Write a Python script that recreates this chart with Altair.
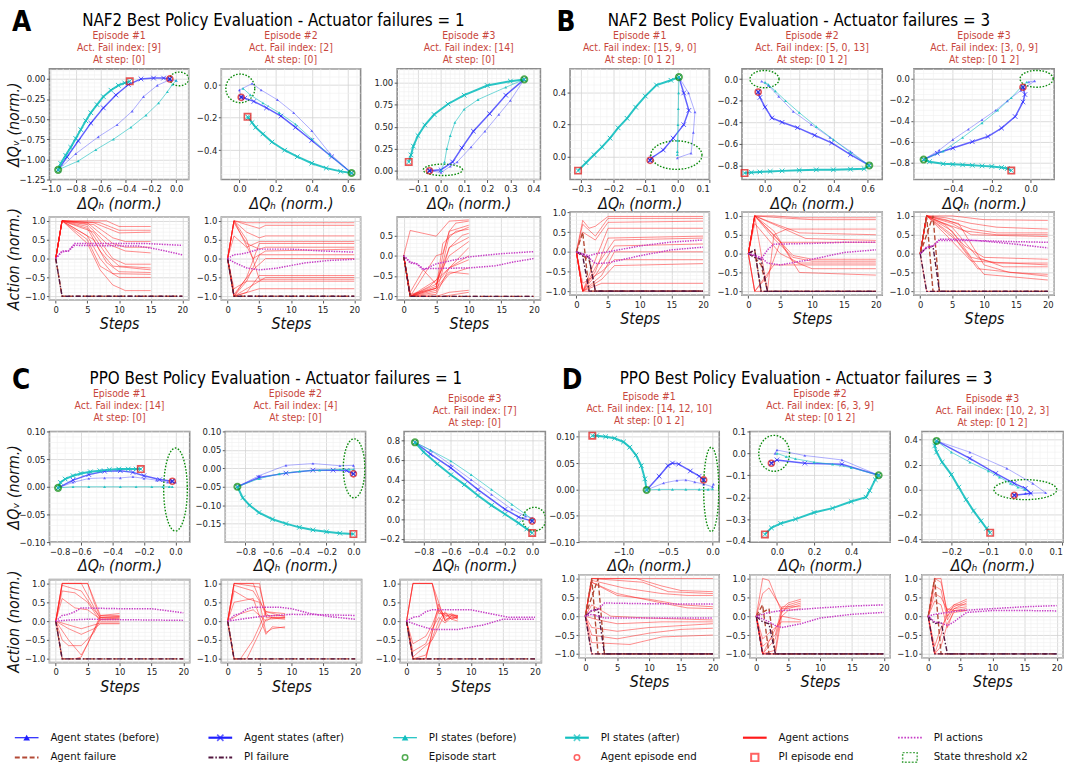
import math
import altair as alt
import pandas as pd

FONT = "Liberation Sans Narrow, DejaVu Sans Condensed, DejaVu Sans"
TITLE_RED = "#c8463c"
BLUE = "#1f1fff"
CYAN = "#12bfbf"
RED = "#ff1a1a"
MAG = "#c53ac5"
GREEN = "#0a8a0a"
AFAIL_C = "#b34a36"
PFAIL_C = "#52163f"
MINOR = "#efefef"
XPATH = "M-1,-1L1,1M-1,1L1,-1"

# ======================= DATA =======================
GROUP_TITLES = {
    "A": "NAF2 Best Policy Evaluation - Actuator failures = 1",
    "B": "NAF2 Best Policy Evaluation - Actuator failures = 3",
    "C": "PPO Best Policy Evaluation - Actuator failures = 1",
    "D": "PPO Best Policy Evaluation - Actuator failures = 3",
}

# ---------- A1 ----------
A1_TITLE = ["Episode #1", "Act. Fail index: [9]", "At step: [0]"]
A1_XDOM = [-1.01, 0.1]
A1_YDOM = [-1.25, 0.125]
A1_XAX = [-1.0, -0.8, -0.6, -0.4, -0.2, 0.0]
A1_YAX = [-1.25, -1.0, -0.75, -0.5, -0.25, 0.0]
A1_AG_BEFORE = [[-0.94, -1.13], [-0.8, -0.93], [-0.62, -0.72], [-0.47, -0.57], [-0.35, -0.4], [-0.26, -0.22], [-0.15, -0.08], [-0.05, -0.01], [0.0, -0.02]]
A1_AG_AFTER = [[-0.94, -1.13], [-0.87, -0.97], [-0.78, -0.77], [-0.68, -0.55], [-0.58, -0.36], [-0.48, -0.2], [-0.38, -0.07], [-0.28, 0.0], [-0.18, 0.01], [-0.1, 0.01], [-0.05, 0.0]]
A1_PI_BEFORE = [[-0.94, -1.13], [-0.78, -1.02], [-0.64, -0.88], [-0.5, -0.75], [-0.36, -0.6], [-0.24, -0.45], [-0.14, -0.3], [-0.07, -0.16], [-0.03, -0.07], [0.0, -0.02]]
A1_PI_AFTER = [[-0.94, -1.13], [-0.92, -1.05], [-0.88, -0.95], [-0.84, -0.85], [-0.8, -0.74], [-0.76, -0.63], [-0.72, -0.52], [-0.68, -0.42], [-0.63, -0.32], [-0.58, -0.22], [-0.52, -0.14], [-0.46, -0.08], [-0.41, -0.05], [-0.37, -0.03]]
A1_START = [-0.94, -1.13]
A1_AG_END = [-0.05, 0.0]
A1_PI_END = [-0.37, -0.03]
A1_THR = [0.025, 0.0, 0.075, 0.085]
A1_ACT = [
    [[0, 0], [1, 1], [8, 1], [10, 0.85], [15, 0.85]],
    [[0, 0], [1, 1], [7, 0.95], [10, 0.75], [15, 0.75]],
    [[0, 0], [1, 1], [6, 0.95], [10, 0.68], [15, 0.7]],
    [[0, 0], [1, 1], [6, 0.9], [9, 0.55], [11, 0.45], [15, 0.45]],
    [[0, 0], [1, 1], [5, 0.95], [9, 0.4], [11, 0.3], [15, 0.3]],
    [[0, 0], [1, 1], [5, 0.9], [8, 0.4], [11, 0.2], [15, 0.15]],
    [[0, 0], [1, 1], [6, 0.7], [9, 0.0], [11, -0.15], [15, -0.15]],
    [[0, 0], [1, 1], [5, 0.85], [8, 0.1], [10, -0.2], [15, -0.25]],
    [[0, 0], [1, 1], [5, 0.8], [7, 0.2], [9, -0.2], [15, -0.3]],
    [[0, 0], [1, 1], [6, 0.5], [8, -0.1], [10, -0.35], [15, -0.37]],
    [[0, 0], [1, 1], [5, 0.6], [7, 0.0], [9, -0.4], [15, -0.42]],
    [[0, 0], [1, 1], [5, 0.5], [7, -0.2], [10, -0.5], [15, -0.5]],
    [[0, 0], [1, 1], [5, 0.4], [7, -0.3], [9, -0.7], [11, -0.85], [15, -0.85]],
]
A1_AFAIL = [[[0, 0], [1, -1], [20, -1]]]
A1_PFAIL = [[[0, 0], [1, -1], [20, -1]]]
A1_PIACT = [
    [[0, 0], [1, 0.2], [2, 0.2], [3, 0.4], [14, 0.4], [20, 0.35]],
    [[0, 0], [1, 0.18], [2, 0.2], [3, 0.35], [13, 0.33], [16, 0.25], [20, 0.1]],
]

# ---------- A2 ----------
A2_TITLE = ["Episode #2", "Act. Fail index: [2]", "At step: [0]"]
A2_XDOM = [-0.1, 0.67]
A2_YDOM = [-0.58, 0.1]
A2_XAX = [0.0, 0.2, 0.4, 0.6]
A2_YAX = [-0.4, -0.2, 0.0]
A2_AG_BEFORE = [[0.62, -0.54], [0.5, -0.42], [0.4, -0.28], [0.3, -0.17], [0.21, -0.09], [0.12, -0.03], [0.07, 0.01], [0.0, -0.03], [0.01, -0.07]]
A2_AG_AFTER = [[0.62, -0.54], [0.51, -0.44], [0.4, -0.34], [0.31, -0.26], [0.23, -0.19], [0.15, -0.14], [0.08, -0.1], [0.03, -0.08], [0.01, -0.075]]
A2_PI_BEFORE = [[0.62, -0.54], [0.5, -0.43], [0.4, -0.33], [0.31, -0.24], [0.22, -0.17], [0.13, -0.11], [0.06, -0.06], [0.02, -0.02]]
A2_PI_AFTER = [[0.62, -0.54], [0.56, -0.53], [0.48, -0.51], [0.4, -0.48], [0.32, -0.44], [0.25, -0.4], [0.18, -0.35], [0.13, -0.3], [0.09, -0.26], [0.07, -0.23], [0.05, -0.2], [0.045, -0.195]]
A2_START = [0.62, -0.54]
A2_AG_END = [0.01, -0.075]
A2_PI_END = [0.045, -0.195]
A2_THR = [0.005, -0.02, 0.08, 0.088]
A2_ACT = [
    [[0, 0], [1, 1], [3, 0.95], [20, 0.95]],
    [[0, 0], [1, 1], [3, 0.9], [5, 0.8], [6, 0.88], [20, 0.88]],
    [[0, 0], [1, 1], [3, 0.7], [5, 0.55], [6, 0.6], [20, 0.6]],
    [[0, 0], [1, 0.95], [3, 0.4], [5, 0.25], [6, 0.3], [20, 0.3]],
    [[0, 0], [1, 0.6], [3, 0.3], [5, 0.45], [20, 0.45]],
    [[0, 0], [1, 1], [4, 0.0], [6, 0.2], [20, 0.25]],
    [[0, 0], [1, -1], [3, -0.5], [5, 0.4], [20, 0.4]],
    [[0, 0], [1, -1], [3, -0.6], [5, 0.1], [20, 0.1]],
    [[0, 0], [1, -0.95], [4, -0.3], [6, 0.0], [20, 0.0]],
    [[0, 0], [1, -1], [3, -0.9], [5, -0.45], [20, -0.45]],
    [[0, 0], [1, -1], [4, -0.7], [6, -0.5], [20, -0.5]],
    [[0, 0], [1, -0.8], [3, -0.6], [6, -0.6], [20, -0.6]],
    [[0, 0], [1, -1], [5, -0.8], [20, -0.8]],
    [[0, 0], [1, 1], [3, 0.5], [5, -0.55], [20, -0.55]],
]
A2_AFAIL = [[[0, 0], [1, -1], [20, -1]]]
A2_PFAIL = [[[0, 0], [1, -1], [20, -1]]]
A2_PIACT = [
    [[0, 0], [1, 0.1], [2, 0.12], [3, 0.15], [5, 0.25], [10, 0.25], [15, 0.2], [20, 0.17]],
    [[0, 0], [1, -0.1], [3, -0.25], [5, -0.3], [8, -0.25], [12, -0.12], [16, -0.05], [20, -0.02]],
]

# ---------- A3 ----------
A3_TITLE = ["Episode #3", "Act. Fail index: [14]", "At step: [0]"]
A3_XDOM = [-0.19, 0.43]
A3_YDOM = [-0.1, 1.16]
A3_XAX = [-0.1, 0.0, 0.1, 0.2, 0.3, 0.4]
A3_YAX = [0.0, 0.25, 0.5, 0.75, 1.0]
A3_AG_BEFORE = [[0.36, 1.04], [0.3, 0.8], [0.25, 0.64], [0.19, 0.45], [0.13, 0.27], [0.07, 0.1], [0.04, 0.05], [0.0, -0.02], [-0.05, 0.0]]
A3_AG_AFTER = [[0.36, 1.04], [0.28, 0.86], [0.21, 0.65], [0.14, 0.45], [0.09, 0.26], [0.05, 0.1], [0.0, 0.01], [-0.05, 0.0]]
A3_PI_BEFORE = [[0.36, 1.04], [0.28, 0.95], [0.16, 0.81], [0.1, 0.7], [0.06, 0.55], [0.04, 0.4], [0.025, 0.25], [0.015, 0.1], [0.0, 0.0]]
A3_PI_AFTER = [[0.36, 1.04], [0.3, 1.02], [0.2, 0.97], [0.1, 0.86], [0.03, 0.76], [-0.03, 0.64], [-0.07, 0.52], [-0.1, 0.4], [-0.12, 0.28], [-0.13, 0.18], [-0.14, 0.1]]
A3_START = [0.36, 1.04]
A3_AG_END = [-0.05, 0.0]
A3_PI_END = [-0.14, 0.1]
A3_THR = [0.008, 0.01, 0.085, 0.065]
A3_ACT = [
    [[0, 0], [1, 0.62], [5, 0.48], [7, 0.85], [10, 0.88]],
    [[0, 0], [1, -1], [5, 0.0], [6, 0.05], [7, 0.6], [8, 0.8], [10, 0.85]],
    [[0, 0], [1, -1], [5, -0.8], [6, 0.0], [7, 0.6], [10, 0.75]],
    [[0, 0], [1, -1], [5, -0.75], [6, -0.2], [7, 0.5], [10, 0.7]],
    [[0, 0], [1, -1], [5, -0.8], [6, 0.3], [8, 0.6], [10, 0.65]],
    [[0, 0], [1, -1], [5, -0.9], [7, 0.2], [9, 0.5], [10, 0.55]],
    [[0, 0], [1, -0.9], [3, -0.35], [5, -0.7], [7, 0.2], [10, 0.45]],
    [[0, 0], [1, -1], [5, -0.6], [7, 0.0], [10, 0.35]],
    [[0, 0], [1, -1], [5, -0.7], [7, -0.3], [10, 0.2]],
    [[0, 0], [1, -1], [4, -0.75], [7, -0.3], [10, 0.0]],
    [[0, 0], [1, -1], [5, -0.95], [7, -0.3], [10, -0.1]],
    [[0, 0], [1, -1], [5, -0.85], [7, -0.45], [10, -0.3]],
    [[0, 0], [1, -0.95], [5, -0.8], [7, -0.4], [10, -0.45]],
    [[0, 0], [1, -1], [5, -1], [7, -0.9], [10, -0.85]],
    [[0, 0], [1, -1], [6, -1], [8, -0.95], [10, -0.9]],
]
A3_AFAIL = [[[0, 0], [1, -1], [20, -1]]]
A3_PFAIL = [[[0, 0], [1, -1], [20, -1]]]
A3_PIACT = [
    [[0, 0], [1, -0.18], [2, -0.2], [3, -0.35], [5, -0.2], [10, -0.03], [15, 0.05], [20, 0.1]],
    [[0, 0], [1, -0.15], [2, -0.2], [3, -0.32], [10, -0.3], [14, -0.25], [17, -0.15], [20, -0.07]],
]

# ---------- B1 ----------
B1_TITLE = ["Episode #1", "Act. Fail index: [15, 9, 0]", "At step: [0 1 2]"]
B1_XDOM = [-0.335, 0.1]
B1_YDOM = [-0.146, 0.552]
B1_XAX = [-0.3, -0.2, -0.1, 0.0, 0.1]
B1_YAX = [0.0, 0.2, 0.4]
B1_AG_BEFORE = [[0.005, 0.5], [0.035, 0.4], [0.055, 0.28], [0.05, 0.15], [0.043, 0.02], [0.0, -0.01]]
B1_AG_AFTER = [[0.005, 0.5], [0.02, 0.4], [0.036, 0.29], [0.02, 0.2], [-0.013, 0.115], [-0.044, 0.04], [-0.08, -0.01], [-0.085, -0.025]]
B1_PI_BEFORE = [[0.005, 0.5], [0.004, 0.4], [0.003, 0.3], [0.002, 0.2], [0.001, 0.1], [0.0, 0.03], [0.0, 0.01]]
B1_PI_AFTER = [[0.005, 0.5], [-0.02, 0.48], [-0.065, 0.45], [-0.1, 0.38], [-0.13, 0.31], [-0.157, 0.24], [-0.185, 0.18], [-0.21, 0.115], [-0.235, 0.06], [-0.26, 0.01], [-0.285, -0.04], [-0.31, -0.09]]
B1_START = [0.005, 0.5]
B1_AG_END = [-0.085, -0.025]
B1_PI_END = [-0.31, -0.09]
B1_THR = [-0.003, 0.008, 0.08, 0.09]
B1_ACT = [
    [[0, 0], [1, 0.8], [2, 0.6], [3, 0.65], [5, 0.9], [20, 0.9]],
    [[0, 0], [1, 0.7], [3, 0.4], [5, 0.85], [20, 0.85]],
    [[0, 0], [1, 0.5], [3, 0.3], [5, 0.75], [20, 0.78]],
    [[0, 0], [1, -1], [3, -0.2], [5, 0.6], [20, 0.6]],
    [[0, 0], [1, -1], [3, -0.5], [5, 0.35], [20, 0.4]],
    [[0, 0], [1, -1], [3, -0.4], [6, 0.3], [20, 0.35]],
    [[0, 0], [1, -1], [3, -0.6], [6, 0.15], [20, 0.2]],
    [[0, 0], [1, -1], [4, -0.6], [6, 0.0], [20, 0.0]],
    [[0, 0], [1, -0.8], [4, -0.5], [6, -0.2], [20, -0.2]],
    [[0, 0], [1, -1], [4, -0.7], [6, -0.35], [20, -0.3]],
    [[0, 0], [1, -1], [4, -0.8], [6, -0.8], [20, -0.8]],
    [[0, 0], [1, -1], [20, -1]],
]
B1_AFAIL = [[[0, 0], [1, 0.5], [2, -1], [20, -1]], [[0, 0], [2, -0.2], [3, -1], [20, -1]]]
B1_PFAIL = [[[0, 0], [1, -0.05], [2, -0.15], [3, -1], [20, -1]], [[0, 0], [1, -0.1], [2, -1], [20, -1]]]
B1_PIACT = [
    [[0, 0], [1, -0.05], [2, -0.1], [3, -0.05], [5, 0.0], [10, 0.15], [15, 0.25], [20, 0.3]],
    [[0, 0], [2, -0.15], [3, -0.3], [5, -0.28], [10, -0.1], [15, 0.05], [20, 0.12]],
]

# ---------- B2 ----------
B2_TITLE = ["Episode #2", "Act. Fail index: [5, 0, 13]", "At step: [0 1 2]"]
B2_XDOM = [-0.135, 0.686]
B2_YDOM = [-0.93, 0.095]
B2_XAX = [0.0, 0.2, 0.4, 0.6]
B2_YAX = [-0.8, -0.6, -0.4, -0.2, 0.0]
B2_AG_BEFORE = [[0.61, -0.8], [0.5, -0.67], [0.38, -0.54], [0.27, -0.42], [0.165, -0.3], [0.08, -0.16], [0.02, -0.06], [-0.02, -0.02]]
B2_AG_AFTER = [[0.61, -0.8], [0.5, -0.7], [0.39, -0.59], [0.29, -0.52], [0.19, -0.45], [0.1, -0.4], [0.04, -0.36], [0.0, -0.26], [-0.03, -0.17], [-0.04, -0.12]]
B2_PI_BEFORE = [[0.61, -0.8], [0.5, -0.68], [0.4, -0.56], [0.3, -0.44], [0.2, -0.31], [0.12, -0.2], [0.06, -0.11], [0.02, -0.05], [0.0, -0.03]]
B2_PI_AFTER = [[0.61, -0.8], [0.58, -0.83], [0.5, -0.835], [0.4, -0.84], [0.3, -0.84], [0.2, -0.845], [0.1, -0.85], [0.03, -0.855], [-0.03, -0.86], [-0.08, -0.865], [-0.12, -0.87]]
B2_START = [0.61, -0.8]
B2_AG_END = [-0.04, -0.12]
B2_PI_END = [-0.12, -0.87]
B2_THR = [-0.003, 0.0, 0.085, 0.08]
B2_ACT = [
    [[0, 0], [1, 1], [4, 1], [8, 0.95], [20, 0.95]],
    [[0, 0], [1, 1], [5, 0.95], [10, 0.9], [20, 0.9]],
    [[0, 0], [1, 1], [3, -1], [4, 0.5], [6, 0.65], [20, 0.65]],
    [[0, 0], [1, 1], [4, 0.8], [8, 0.55], [20, 0.5]],
    [[0, 0], [1, 1], [5, 0.7], [9, 0.4], [20, 0.35]],
    [[0, 0], [1, -1], [3, -0.6], [5, 0.3], [20, 0.3]],
    [[0, 0], [1, 1], [4, 0.5], [7, -0.05], [10, -0.15], [20, -0.15]],
    [[0, 0], [1, 1], [4, 0.4], [7, -0.1], [10, -0.2], [20, -0.2]],
    [[0, 0], [1, 0.8], [5, 0.0], [8, -0.25], [20, -0.25]],
    [[0, 0], [1, -1], [4, -0.3], [7, -0.3], [20, -0.3]],
    [[0, 0], [1, 1], [4, 0.6], [7, -0.2], [10, -0.4], [20, -0.4]],
    [[0, 0], [1, 1], [5, 0.3], [8, -0.5], [20, -0.57]],
    [[0, 0], [1, -1], [20, -1]],
]
B2_AFAIL = [[[0, 0], [1, 0.1], [2, -1], [20, -1]], [[0, 0], [1, -0.1], [2, -0.3], [3, -1], [20, -1]]]
B2_PFAIL = [[[0, 0], [1, -0.1], [2, -0.15], [3, -1], [20, -1]], [[0, 0], [1, 0.1], [2, -1], [20, -1]]]
B2_PIACT = [
    [[0, 0], [1, -0.05], [2, -0.15], [3, 0.1], [4, 0.25], [10, 0.27], [15, 0.3], [20, 0.3]],
    [[0, 0], [2, -0.1], [3, -0.25], [5, -0.3], [10, -0.15], [15, 0.03], [20, 0.1]],
]

# ---------- B3 ----------
B3_TITLE = ["Episode #3", "Act. Fail index: [3, 0, 9]", "At step: [0 1 2]"]
B3_XDOM = [-0.6, 0.12]
B3_YDOM = [-0.96, 0.095]
B3_XAX = [-0.4, -0.2, 0.0]
B3_YAX = [-0.8, -0.6, -0.4, -0.2, 0.0]
B3_AG_BEFORE = [[-0.55, -0.77], [-0.47, -0.68], [-0.4, -0.58], [-0.32, -0.48], [-0.25, -0.39], [-0.18, -0.3], [-0.12, -0.21], [-0.05, -0.11], [0.02, -0.02], [-0.01, -0.03]]
B3_AG_AFTER = [[-0.55, -0.77], [-0.48, -0.71], [-0.4, -0.66], [-0.3, -0.6], [-0.22, -0.55], [-0.15, -0.47], [-0.08, -0.36], [-0.04, -0.22], [-0.03, -0.15], [-0.04, -0.08]]
B3_PI_BEFORE = [[-0.55, -0.77], [-0.45, -0.69], [-0.35, -0.56], [-0.25, -0.42], [-0.17, -0.3], [-0.1, -0.18], [-0.05, -0.08], [-0.02, -0.03]]
B3_PI_AFTER = [[-0.55, -0.77], [-0.52, -0.79], [-0.45, -0.81], [-0.4, -0.815], [-0.35, -0.82], [-0.3, -0.825], [-0.25, -0.83], [-0.2, -0.835], [-0.15, -0.845], [-0.12, -0.855], [-0.1, -0.875]]
B3_START = [-0.55, -0.77]
B3_AG_END = [-0.04, -0.08]
B3_PI_END = [-0.1, -0.875]
B3_THR = [0.03, 0.0, 0.085, 0.08]
B3_ACT = [
    [[0, 0], [1, 1], [5, 1], [10, 0.9], [20, 0.88]],
    [[0, 0], [1, 1], [4, 0.95], [8, 0.8], [12, 0.7], [20, 0.65]],
    [[0, 0], [1, 1], [4, 0.9], [8, 0.65], [12, 0.55], [20, 0.55]],
    [[0, 0], [1, 1], [3, 0.85], [7, 0.6], [12, 0.5], [20, 0.5]],
    [[0, 0], [1, 1], [5, 0.8], [8, 0.5], [20, 0.45]],
    [[0, 0], [1, 1], [4, 0.75], [7, 0.2], [10, -0.1], [20, -0.15]],
    [[0, 0], [1, 1], [5, 0.6], [8, -0.1], [12, -0.25], [20, -0.25]],
    [[0, 0], [1, 1], [4, 0.5], [8, -0.2], [20, -0.3]],
    [[0, 0], [1, 1], [5, 0.7], [9, -0.1], [13, -0.35], [20, -0.35]],
    [[0, 0], [1, 1], [6, 0.8], [10, -0.3], [14, -0.5], [20, -0.55]],
    [[0, 0], [1, 1], [5, 0.5], [9, -0.4], [20, -0.6]],
    [[0, 0], [1, 1], [6, 0.3], [10, -0.55], [20, -0.7]],
    [[0, 0], [1, -1], [20, -1]],
]
B3_AFAIL = [[[0, 0], [1, 1], [2, -1], [20, -1]], [[0, 0], [2, 1], [3, -1], [20, -1]]]
B3_PFAIL = [[[0, 0], [1, 0.15], [2, 0.2], [3, -1], [20, -1]], [[0, 0], [1, -1], [20, -1]]]
B3_PIACT = [
    [[0, 0], [1, 0.18], [2, 0.2], [3, 0.38], [6, 0.38], [10, 0.33], [15, 0.25], [20, 0.15]],
    [[0, 0], [1, 0.15], [2, 0.2], [3, 0.35], [8, 0.35], [14, 0.32], [20, 0.3]],
]

# ---------- C1 ----------
C1_TITLE = ["Episode #1", "Act. Fail index: [14]", "At step: [0]"]
C1_XDOM = [-0.8, 0.09]
C1_YDOM = [-0.1, 0.1]
C1_XAX = [-0.8, -0.6, -0.4, -0.2, 0.0]
C1_YAX = [-0.1, -0.05, 0.0, 0.05, 0.1]
C1_AG_BEFORE = [[-0.745, -0.002], [-0.65, 0.008], [-0.55, 0.015], [-0.45, 0.016], [-0.35, 0.016], [-0.27, 0.018], [-0.2, 0.015], [-0.12, 0.012], [-0.05, 0.008], [0.0, 0.008]]
C1_AG_AFTER = [[-0.745, -0.002], [-0.65, 0.012], [-0.55, 0.022], [-0.45, 0.028], [-0.35, 0.029], [-0.27, 0.026], [-0.2, 0.02], [-0.1, 0.013], [-0.02, 0.01]]
C1_PI_BEFORE = [[-0.745, -0.002], [-0.65, 0.0], [-0.55, 0.0], [-0.45, 0.0], [-0.35, 0.0], [-0.25, 0.0], [-0.15, 0.0], [-0.08, 0.0], [-0.04, 0.0], [-0.02, 0.0]]
C1_PI_AFTER = [[-0.745, -0.002], [-0.73, 0.008], [-0.7, 0.014], [-0.65, 0.02], [-0.6, 0.024], [-0.54, 0.027], [-0.48, 0.029], [-0.42, 0.031], [-0.36, 0.032], [-0.3, 0.032], [-0.25, 0.032], [-0.22, 0.032]]
C1_START = [-0.745, -0.002]
C1_AG_END = [-0.02, 0.01]
C1_PI_END = [-0.22, 0.032]
C1_THR = [0.0, -0.005, 0.075, 0.075]
C1_ACT = [
    [[0, 0], [1, 1], [5, 1], [7, 0.15], [10, 0.2]],
    [[0, 0], [1, 1], [5, 1], [6, 0.5], [7, 0.1], [10, 0.1]],
    [[0, 0], [1, 1], [4, 1], [7, 0.05], [10, 0.05]],
    [[0, 0], [1, 0.95], [4, 0.8], [6, 0.3], [7, 0.1], [10, 0.12]],
    [[0, 0], [1, 0.8], [3, 0.75], [5, 0.5], [7, 0.0], [10, 0.0]],
    [[0, 0], [1, 0.6], [3, 0.35], [5, 0.3], [7, 0.05], [10, 0.08]],
    [[0, 0], [2, -0.1], [4, -0.2], [6, -0.1], [7, -0.05], [10, -0.05]],
    [[0, 0], [2, -0.2], [4, -0.35], [6, -0.2], [7, -0.07], [10, -0.07]],
    [[0, 0], [1, -0.5], [2, -0.65], [4, -0.65], [6, -0.3], [7, 0.05], [10, 0.05]],
    [[0, 0], [2, -0.5], [4, -0.9], [5, -0.6], [7, 0.15], [10, 0.15]],
    [[0, 0], [1, -1], [3, -1], [4, -0.95], [7, 0.1], [10, 0.12]],
]
C1_AFAIL = [[[0, 0], [1, -1], [20, -1]]]
C1_PFAIL = [[[0, 0], [1, -1], [20, -1]]]
C1_PIACT = [
    [[0, 0], [1, 0.15], [2, 0.18], [3, 0.25], [4, 0.35], [10, 0.33], [15, 0.33], [20, 0.22]],
    [[0, 0], [2, 0.03], [5, 0.05], [10, 0.04], [15, 0.03], [20, 0.02]],
]

# ---------- C2 ----------
C2_TITLE = ["Episode #2", "Act. Fail index: [4]", "At step: [0]"]
C2_XDOM = [-0.95, 0.09]
C2_YDOM = [-0.2, 0.1]
C2_XAX = [-0.8, -0.6, -0.4, -0.2, 0.0]
C2_YAX = [-0.15, -0.1, -0.05, 0.0, 0.05, 0.1]
C2_AG_BEFORE = [[-0.86, -0.05], [-0.7, -0.02], [-0.5, 0.008], [-0.3, 0.013], [-0.1, 0.007], [0.0, 0.008], [0.015, -0.01]]
C2_AG_AFTER = [[-0.86, -0.05], [-0.7, -0.025], [-0.5, -0.013], [-0.3, -0.005], [-0.15, -0.005], [-0.05, -0.006], [0.0, -0.015]]
C2_PI_BEFORE = [[-0.86, -0.05], [-0.7, -0.028], [-0.55, -0.015], [-0.4, -0.008], [-0.25, -0.005], [-0.1, -0.003], [-0.03, -0.003], [0.0, -0.003]]
C2_PI_AFTER = [[-0.86, -0.05], [-0.82, -0.08], [-0.77, -0.1], [-0.7, -0.12], [-0.6, -0.138], [-0.5, -0.15], [-0.4, -0.16], [-0.3, -0.167], [-0.2, -0.172], [-0.1, -0.176], [0.0, -0.178]]
C2_START = [-0.86, -0.05]
C2_AG_END = [0.0, -0.015]
C2_PI_END = [0.0, -0.178]
C2_THR = [0.005, 0.0, 0.08, 0.08]
C2_ACT = [
    [[0, 0], [1, 1], [5, 1], [6, 0.1], [9, 0.1]],
    [[0, 0], [1, 1], [4, 1], [6, 0.15], [9, 0.15]],
    [[0, 0], [1, 1], [5, 0.9], [6, 0.2], [7, 0.08], [9, 0.05]],
    [[0, 0], [1, 0.8], [3, 0.6], [5, 0.5], [6, -0.3], [7, -0.2], [9, -0.15]],
    [[0, 0], [1, 0.5], [4, 0.6], [6, -0.35], [7, -0.15], [9, -0.18]],
    [[0, 0], [1, 0.95], [4, 0.8], [6, 0.25], [9, 0.2]],
    [[0, 0], [2, 0.2], [4, 0.3], [6, 0.0], [7, 0.1], [9, 0.1]],
    [[0, 0], [1, -1], [2, -1], [4, -0.5], [6, 0.25], [9, 0.12]],
    [[0, 0], [1, -1], [3, -1], [6, 0.05], [9, 0.08]],
]
C2_AFAIL = [[[0, 0], [1, -1], [20, -1]]]
C2_PFAIL = [[[0, 0], [1, -1], [20, -1]]]
C2_PIACT = [
    [[0, 0], [1, 0.15], [2, 0.2], [3, 0.32], [4, 0.37], [8, 0.37], [10, 0.33], [13, 0.2], [16, 0.12], [20, 0.05]],
    [[0, 0], [2, 0.05], [5, 0.12], [10, 0.18], [15, 0.17], [20, 0.15]],
]

# ---------- C3 ----------
C3_TITLE = ["Episode #3", "Act. Fail index: [7]", "At step: [0]"]
C3_XDOM = [-0.945, 0.097]
C3_YDOM = [-0.233, 0.89]
C3_XAX = [-0.8, -0.6, -0.4, -0.2, 0.0]
C3_YAX = [-0.2, 0.0, 0.2, 0.4, 0.6, 0.8]
C3_AG_BEFORE = [[-0.865, 0.78], [-0.75, 0.7], [-0.6, 0.55], [-0.45, 0.4], [-0.3, 0.25], [-0.15, 0.1], [-0.05, 0.03], [0.0, 0.01]]
C3_AG_AFTER = [[-0.865, 0.78], [-0.75, 0.66], [-0.6, 0.52], [-0.4, 0.3], [-0.2, 0.1], [-0.1, 0.02], [0.0, -0.02]]
C3_PI_BEFORE = [[-0.865, 0.78], [-0.75, 0.7], [-0.6, 0.59], [-0.45, 0.45], [-0.3, 0.3], [-0.15, 0.15], [-0.05, 0.05], [0.0, 0.0]]
C3_PI_AFTER = [[-0.865, 0.78], [-0.8, 0.68], [-0.7, 0.56], [-0.6, 0.45], [-0.5, 0.35], [-0.4, 0.24], [-0.3, 0.14], [-0.2, 0.05], [-0.1, -0.04], [-0.04, -0.1], [0.0, -0.14]]
C3_START = [-0.865, 0.78]
C3_AG_END = [0.0, -0.02]
C3_PI_END = [0.0, -0.14]
C3_THR = [0.015, 0.0, 0.085, 0.12]
C3_ACT = [
    [[0, 0], [1, 1], [4, 1], [5, 0.3], [6, 0.1], [7, 0.2], [8, 0.1]],
    [[0, 0], [1, 1], [4, 1], [5, 0.5], [6, 0.0], [7, 0.15], [8, 0.15]],
    [[0, 0], [1, 1], [4, 1], [5, 0.2], [6, 0.2], [7, 0.05], [8, 0.12]],
    [[0, 0], [1, -1], [3, -1], [5, 0.45], [6, 0.0], [7, 0.15], [8, 0.05]],
    [[0, 0], [1, -1], [3, -1], [4, -0.3], [5, 0.3], [6, 0.05], [8, 0.1]],
    [[0, 0], [1, -0.6], [3, -0.4], [4, -0.1], [5, 0.35], [6, 0.15], [8, 0.12]],
    [[0, 0], [1, -0.8], [3, -0.6], [4, -0.2], [5, 0.1], [6, -0.05], [7, 0.1], [8, 0.08]],
    [[0, 0], [1, -0.95], [4, -0.5], [5, -0.15], [6, 0.2], [8, 0.15]],
    [[0, 0], [1, -1], [3, -0.9], [5, 0.0], [6, 0.25], [7, 0.05], [8, 0.0]],
]
C3_AFAIL = [[[0, 0], [1, -1], [20, -1]]]
C3_PFAIL = [[[0, 0], [1, -1], [20, -1]]]
C3_PIACT = [
    [[0, 0], [1, 0.1], [2, 0.13], [3, 0.25], [4, 0.3], [10, 0.3], [13, 0.2], [16, 0.1], [20, 0.1]],
    [[0, 0], [2, -0.12], [4, -0.22], [8, -0.22], [12, -0.1], [15, 0.05], [20, 0.05]],
]

# ---------- D1 ----------
D1_TITLE = ["Episode #1", "Act. Fail index: [14, 12, 10]", "At step: [0 1 2]"]
D1_XDOM = [-1.5, 0.075]
D1_YDOM = [-0.1, 0.11]
D1_XAX = [-1.0, -0.5, 0.0]
D1_YAX = [-0.1, -0.05, 0.0, 0.05, 0.1]
D1_AG_BEFORE = [[-0.74, -0.001], [-0.55, 0.012], [-0.4, 0.017], [-0.3, 0.018], [-0.2, 0.014], [-0.1, 0.01], [0.0, 0.005], [0.01, 0.01]]
D1_AG_AFTER = [[-0.74, -0.001], [-0.6, 0.025], [-0.5, 0.045], [-0.45, 0.05], [-0.38, 0.048], [-0.25, 0.035], [-0.15, 0.025], [-0.1, 0.018]]
D1_PI_BEFORE = [[-0.74, -0.001], [-0.6, 0.0], [-0.45, 0.0], [-0.3, 0.0], [-0.15, 0.0], [-0.05, 0.0], [0.0, 0.001]]
D1_PI_AFTER = [[-0.74, -0.001], [-0.76, 0.02], [-0.8, 0.045], [-0.86, 0.065], [-0.93, 0.08], [-1.0, 0.09], [-1.1, 0.097], [-1.2, 0.1], [-1.3, 0.102], [-1.35, 0.102]]
D1_START = [-0.74, -0.001]
D1_AG_END = [-0.1, 0.018]
D1_PI_END = [-1.35, 0.102]
D1_THR = [-0.015, 0.0, 0.085, 0.08]
D1_ACT = [
    [[0, 0], [1, 1], [20, 1]],
    [[0, 0], [1, 1], [8, 1], [12, 0.8], [15, 0.68], [20, 0.65]],
    [[0, 0], [1, 1], [9, 0.9], [13, 0.65], [20, 0.6]],
    [[0, 0], [1, 0.95], [6, 0.75], [12, 0.6], [16, 0.55], [20, 0.55]],
    [[0, 0], [1, 0.9], [5, 0.55], [10, 0.45], [15, 0.3], [20, 0.25]],
    [[0, 0], [1, 0.9], [5, 0.6], [12, 0.35], [16, 0.22], [20, 0.2]],
    [[0, 0], [1, 0.3], [4, 0.0], [10, -0.05], [20, -0.1]],
    [[0, 0], [2, -0.1], [5, -0.2], [12, -0.15], [20, -0.15]],
    [[0, 0], [1, -0.3], [5, -0.4], [10, -0.3], [20, -0.2]],
    [[0, 0], [1, -0.5], [5, -0.6], [10, -0.45], [15, -0.35], [20, -0.32]],
    [[0, 0], [1, -0.7], [7, -0.75], [12, -0.55], [20, -0.5]],
    [[0, 0], [1, -1], [20, -1]],
]
D1_AFAIL = [[[0, 0], [1, 1], [2, -1], [20, -1]], [[0, 0], [1, 0.5], [2, 1], [3, -1], [20, -1]]]
D1_PFAIL = [[[0, 0], [1, 0.15], [2, 0.18], [3, -1], [20, -1]], [[0, 0], [1, -1], [20, -1]]]
D1_PIACT = [
    [[0, 0], [1, 0.15], [2, 0.18], [3, 0.35], [10, 0.33], [20, 0.32]],
    [[0, 0], [1, 0.05], [3, -0.05], [10, -0.05], [15, -0.05], [20, -0.05]],
]

# ---------- D2 ----------
D2_TITLE = ["Episode #2", "Act. Fail index: [6, 3, 9]", "At step: [0 1 2]"]
D2_XDOM = [-0.146, 0.61]
D2_YDOM = [-0.405, 0.1]
D2_XAX = [0.0, 0.2, 0.4]
D2_YAX = [-0.4, -0.3, -0.2, -0.1, 0.0, 0.1]
D2_AG_BEFORE = [[0.548, -0.1], [0.35, -0.03], [0.15, -0.01], [0.0, 0.015], [-0.01, 0.0]]
D2_AG_AFTER = [[0.548, -0.1], [0.35, -0.05], [0.15, -0.045], [0.0, -0.03], [-0.03, -0.045]]
D2_PI_BEFORE = [[0.548, -0.1], [0.4, -0.065], [0.3, -0.05], [0.2, -0.04], [0.1, -0.025], [0.05, -0.015], [0.0, 0.0]]
D2_PI_AFTER = [[0.548, -0.1], [0.53, -0.12], [0.5, -0.17], [0.48, -0.2], [0.4, -0.22], [0.3, -0.25], [0.2, -0.27], [0.1, -0.3], [0.02, -0.32], [-0.03, -0.34], [-0.065, -0.37]]
D2_START = [0.548, -0.1]
D2_AG_END = [-0.03, -0.045]
D2_PI_END = [-0.065, -0.37]
D2_THR = [-0.015, 0.0, 0.083, 0.082]
D2_ACT = [
    [[0, 0], [1, 1], [2, 0.95], [4, 0.1], [5, 0.3], [7, 0.4]],
    [[0, 0], [1, 0.6], [2, 0.75], [4, 0.2], [5, 0.35], [7, 0.45]],
    [[0, 0], [1, -1], [3, -0.6], [4, 0.1], [5, 0.25], [7, 0.35]],
    [[0, 0], [1, -1], [3, -0.9], [4, 0.2], [5, 0.2], [7, 0.3]],
    [[0, 0], [1, -0.8], [3, -0.5], [4, 0.25], [7, 0.25]],
    [[0, 0], [1, -1], [4, 0.0], [5, 0.15], [7, 0.2]],
    [[0, 0], [1, -1], [3, -1], [4, 0.0], [7, -0.1]],
    [[0, 0], [1, -0.6], [3, -0.3], [4, -0.15], [7, -0.15]],
    [[0, 0], [1, -1], [7, -1]],
]
D2_AFAIL = [[[0, 0], [1, 0.3], [2, -1], [20, -1]], [[0, 0], [2, 0.2], [3, -1], [20, -1]]]
D2_PFAIL = [[[0, 0], [1, -0.15], [2, -0.2], [3, -1], [20, -1]], [[0, 0], [1, -1], [20, -1]]]
D2_PIACT = [
    [[0, 0], [2, -0.15], [3, -0.25], [4, -0.3], [7, -0.2], [10, -0.05], [15, 0.05], [20, 0.1]],
    [[0, 0], [1, 0.05], [2, 0.1], [4, 0.15], [7, 0.18], [10, 0.22], [15, 0.27], [20, 0.3]],
]

# ---------- D3 ----------
D3_TITLE = ["Episode #3", "Act. Fail index: [10, 2, 3]", "At step: [0 1 2]"]
D3_XDOM = [-0.28, 0.102]
D3_YDOM = [-0.42, 0.466]
D3_XAX = [-0.2, -0.1, 0.0, 0.1]
D3_YAX = [-0.4, -0.2, 0.0, 0.2, 0.4]
D3_AG_BEFORE = [[-0.24, 0.39], [-0.15, 0.3], [-0.05, 0.17], [0.02, 0.05], [0.055, -0.025], [0.0, -0.03]]
D3_AG_AFTER = [[-0.24, 0.39], [-0.15, 0.25], [-0.08, 0.13], [-0.03, 0.05], [0.0, 0.01], [0.015, -0.03], [-0.03, -0.045]]
D3_PI_BEFORE = [[-0.24, 0.39], [-0.2, 0.3], [-0.15, 0.22], [-0.1, 0.15], [-0.07, 0.1], [-0.04, 0.05], [-0.02, 0.02], [0.0, 0.0]]
D3_PI_AFTER = [[-0.24, 0.39], [-0.245, 0.35], [-0.24, 0.3], [-0.225, 0.22], [-0.2, 0.12], [-0.18, 0.02], [-0.16, -0.08], [-0.14, -0.17], [-0.12, -0.25], [-0.105, -0.31], [-0.095, -0.345]]
D3_START = [-0.24, 0.39]
D3_AG_END = [-0.03, -0.045]
D3_PI_END = [-0.095, -0.345]
D3_THR = [0.0, 0.0, 0.085, 0.08]
D3_ACT = [
    [[0, 0], [1, 1], [2, 1], [3, 0.0], [4, 0.3], [6, 0.45]],
    [[0, 0], [1, 1], [2, 0.9], [3, 0.1], [4, 0.25], [6, 0.4]],
    [[0, 0], [1, 0.8], [2, 0.7], [3, -0.1], [4, 0.2], [6, 0.35]],
    [[0, 0], [1, 0.6], [2, 0.5], [3, 0.15], [4, 0.3], [6, 0.3]],
    [[0, 0], [1, -1], [2, -0.5], [3, 0.2], [4, 0.15], [6, 0.2]],
    [[0, 0], [1, -1], [2, -0.8], [3, -0.2], [4, 0.1], [6, 0.15]],
    [[0, 0], [1, -0.8], [2, -0.3], [3, 0.0], [4, 0.2], [6, 0.25]],
    [[0, 0], [1, 0.4], [2, 0.3], [3, -0.3], [4, 0.15], [6, 0.15]],
    [[0, 0], [1, -1], [6, -1]],
]
D3_AFAIL = [[[0, 0], [1, 1], [2, -1], [20, -1]]]
D3_PFAIL = [[[0, 0], [1, -0.2], [2, -0.15], [3, -1], [20, -1]], [[0, 0], [1, -1], [20, -1]]]
D3_PIACT = [
    [[0, 0], [1, 0.05], [3, 0.1], [5, 0.15], [10, 0.2], [15, 0.25], [20, 0.28]],
    [[0, 0], [1, -0.15], [2, -0.18], [3, -0.25], [4, -0.15], [6, 0.1], [10, 0.15], [15, 0.15], [20, 0.14]],
]

# legend labels
LEG_LABELS = [
    ["Agent states (before)", "Agent states (after)", "PI states (before)", "PI states (after)", "Agent actions", "PI actions"],
    ["Agent failure", "PI failure", "Episode start", "Agent episode end", "PI episode end", "State threshold x2"],
]

# ======================= LAYOUT =======================
SH, AH = 112, 84
PANEL_W = {"A1": 141, "A2": 141, "A3": 145, "B1": 141, "B2": 142, "B3": 142,
           "C1": 142, "C2": 142, "C3": 143, "D1": 142, "D2": 142, "D3": 143}
YEXT = {"A1": 26, "A2": 28, "A3": 32, "B1": 27, "B2": 28, "B3": 27,
        "C1": 26, "C2": 27, "C3": 34, "D1": 27, "D2": 25, "D3": 27}
HS = 2          # spacing between panels of a group
GS = 0          # spacing between groups
VS = -6         # state -> action
RS = 34         # row1 -> row2
LS = 35         # row2 -> legend
GT_OFF = 1
LET_OFF = -25
LEG_LEFT = 51
LEG_TEXT_X = [52, 248, 435, 609, 789, 946]
LEG_ROW_Y = [8, 28]
LW, LH = 1000, 32
YFMT2 = {"A1", "A3", "C1", "C2", "D1"}
XMINOR = {"A1": 0.05, "A2": 0.05, "A3": 0.02, "B1": 0.02, "B2": 0.05, "B3": 0.05,
          "C1": 0.05, "C2": 0.05, "C3": 0.05, "D1": 0.1, "D2": 0.05, "D3": 0.02}
YMINOR = {"A1": 0.05, "A2": 0.05, "A3": 0.05, "B1": 0.05, "B2": 0.05, "B3": 0.05,
          "C1": 0.01, "C2": 0.01, "C3": 0.05, "D1": 0.01, "D2": 0.02, "D3": 0.05}


def ep(p):
    g = globals()
    d = {k: g[f"{p}_{k}"] for k in ["TITLE", "XDOM", "YDOM", "XAX", "YAX", "AG_BEFORE", "AG_AFTER",
                                     "PI_BEFORE", "PI_AFTER", "START", "AG_END", "PI_END", "THR",
                                     "ACT", "AFAIL", "PFAIL", "PIACT"]}
    d["name"] = p
    return d


def minor_values(dom, step, majors):
    out = []
    k = math.ceil(dom[0] / step - 1e-9)
    while k * step <= dom[1] + 1e-9:
        v = round(k * step, 6)
        if all(abs(v - m) > step * 0.3 for m in majors):
            out.append(v)
        k += 1
    return out


def pts_df(pts):
    return pd.DataFrame({"x": [p[0] for p in pts], "y": [p[1] for p in pts], "i": list(range(len(pts)))})


def state_panel(e, ytitle):
    n = e["name"]
    xs = alt.Scale(domain=e["XDOM"], nice=False, zero=False)
    ys = alt.Scale(domain=e["YDOM"], nice=False, zero=False)
    xax = alt.Axis(values=e["XAX"], format=".1f", title="ΔQₕ (norm.)")
    yax = alt.Axis(values=e["YAX"], format=".2f" if n in YFMT2 else ".1f", title=ytitle,
                   minExtent=YEXT[n], maxExtent=YEXT[n])
    X = alt.X("x:Q", scale=xs, axis=xax)
    Y = alt.Y("y:Q", scale=ys, axis=yax)
    layers = []
    layers.append(alt.Chart(pd.DataFrame({"x": minor_values(e["XDOM"], XMINOR[n], e["XAX"])}))
                  .mark_rule(color=MINOR, strokeWidth=0.6).encode(x=X))
    layers.append(alt.Chart(pd.DataFrame({"y": minor_values(e["YDOM"], YMINOR[n], e["YAX"])}))
                  .mark_rule(color=MINOR, strokeWidth=0.6).encode(y=Y))
    cx, cy, rx, ry = e["THR"]
    layers.append(alt.Chart(alt.sequence(0, 6.36, 0.06, as_="t"))
                  .transform_calculate(x=f"{cx}+{rx}*cos(datum.t)", y=f"{cy}+{ry}*sin(datum.t)")
                  .mark_line(color=GREEN, strokeDash=[1.6, 1.6], strokeWidth=1.4, clip=True)
                  .encode(x=X, y=Y, order=alt.Order("t:Q")))
    specs = [("AG_BEFORE", BLUE, 0.9, 0.4, "tri"), ("AG_AFTER", BLUE, 1.5, 0.7, "x"),
             ("PI_BEFORE", CYAN, 0.9, 0.65, "tri"), ("PI_AFTER", CYAN, 2.0, 0.9, "x")]
    for key, col, w, op, mk in specs:
        df = pts_df(e[key])
        layers.append(alt.Chart(df).mark_line(color=col, strokeWidth=w, opacity=op, clip=True)
                      .encode(x=X, y=Y, order=alt.Order("i:Q")))
        if mk == "tri":
            layers.append(alt.Chart(df).mark_point(shape="triangle-up", filled=True, size=9, color=col,
                                                   opacity=min(1, op + 0.2), clip=True).encode(x=X, y=Y))
        else:
            layers.append(alt.Chart(df).mark_point(shape=XPATH, filled=False, size=22, color=col,
                                                   strokeWidth=1, opacity=op, clip=True).encode(x=X, y=Y))
    layers.append(alt.Chart(pts_df([e["START"]])).mark_point(shape="circle", filled=False, size=38,
                                                               color=GREEN, strokeWidth=2).encode(x=X, y=Y))
    layers.append(alt.Chart(pts_df([e["PI_END"]])).mark_point(shape="square", filled=False, size=42,
                                                                color="#e01010", strokeWidth=1.6).encode(x=X, y=Y))
    layers.append(alt.Chart(pts_df([e["AG_END"]])).mark_point(shape="circle", filled=False, size=38,
                                                                color="#e01010", strokeWidth=1.6).encode(x=X, y=Y))
    layers.append(alt.Chart(pts_df([e["AG_END"]])).mark_point(shape=XPATH, filled=False, size=16,
                                                                color="#2020d0", strokeWidth=1.4).encode(x=X, y=Y))
    return alt.layer(*layers).properties(
        width=PANEL_W[n], height=SH,
        title=alt.TitleParams(e["TITLE"], fontSize=10.5, font=FONT, color=TITLE_RED, fontWeight="normal",
                              lineHeight=12, offset=3, anchor="middle"))


def lines_df(lines):
    rows = []
    for li, line in enumerate(lines):
        for i, (t, v) in enumerate(line):
            rows.append({"t": t, "v": v, "line": li, "i": i})
    return pd.DataFrame(rows)


def action_panel(e, ytitle):
    n = e["name"]
    ydom = [-1.09, 0.95] if n == "A3" else ([-1.1, 1.01] if n == "B1" else [-1.1, 1.1])
    yvals = [-1.0, -0.5, 0.0, 0.5] if n == "A3" else [-1.0, -0.5, 0.0, 0.5, 1.0]
    xs = alt.Scale(domain=[-1, 21], nice=False, zero=False)
    ys = alt.Scale(domain=ydom, nice=False, zero=False)
    X = alt.X("t:Q", scale=xs, axis=alt.Axis(values=[0, 5, 10, 15, 20], format="d", title="Steps"))
    Y = alt.Y("v:Q", scale=ys, axis=alt.Axis(values=yvals, format=".1f", title=ytitle,
                                            minExtent=YEXT[n], maxExtent=YEXT[n]))
    layers = [
        alt.Chart(pd.DataFrame({"t": minor_values([-1, 21], 1, [0, 5, 10, 15, 20])}))
        .mark_rule(color=MINOR, strokeWidth=0.6).encode(x=X),
        alt.Chart(pd.DataFrame({"v": minor_values(ydom, 0.1, yvals)}))
        .mark_rule(color=MINOR, strokeWidth=0.6).encode(y=Y),
        alt.Chart(lines_df(e["ACT"])).mark_line(color=RED, strokeWidth=1, opacity=0.5, clip=True)
        .encode(x=X, y=Y, detail="line:N", order=alt.Order("i:Q")),
        alt.Chart(lines_df(e["AFAIL"])).mark_line(color=AFAIL_C, strokeWidth=1.4, strokeDash=[5, 2.5], clip=True)
        .encode(x=X, y=Y, detail="line:N", order=alt.Order("i:Q")),
        alt.Chart(lines_df(e["PFAIL"])).mark_line(color=PFAIL_C, strokeWidth=1.4, strokeDash=[5, 2, 1.5, 2], clip=True)
        .encode(x=X, y=Y, detail="line:N", order=alt.Order("i:Q")),
        alt.Chart(lines_df(e["PIACT"])).mark_line(color=MAG, strokeWidth=1.5, strokeDash=[1.4, 1.2], clip=True)
        .encode(x=X, y=Y, detail="line:N", order=alt.Order("i:Q")),
    ]
    return alt.layer(*layers).properties(width=PANEL_W[n], height=AH)


def group(key, ldx, first):
    names = [f"{key}{k}" for k in (1, 2, 3)]
    eps = [ep(p) for p in names]
    sp = [state_panel(e, "ΔQᵥ (norm.)" if (first and j == 0) else None) for j, e in enumerate(eps)]
    ap = [action_panel(e, "Action (norm.)" if (first and j == 0) else None) for j, e in enumerate(eps)]
    top = alt.hconcat(*sp, spacing=HS,
                      title=alt.TitleParams(GROUP_TITLES[key], fontSize=17, font=FONT, fontWeight="normal",
                                            color="black", anchor="middle", offset=GT_OFF))
    bot = alt.hconcat(*ap, spacing=HS)
    return alt.vconcat(top, bot, spacing=VS,
                       title=alt.TitleParams(key, anchor="start", fontSize=28, fontWeight="bold",
                                             font=FONT, color="black", offset=LET_OFF, dx=ldx))


def legend_chart():
    xs = alt.Scale(domain=[LEG_LEFT, LEG_LEFT + LW], nice=False, zero=False)
    ys = alt.Scale(domain=[0, LH], nice=False, zero=False, reverse=True)
    layers = []
    texts = []
    for r, row in enumerate(LEG_LABELS):
        for c, lab in enumerate(row):
            texts.append({"x": LEG_TEXT_X[c], "y": LEG_ROW_Y[r], "label": lab})
    tdf = pd.DataFrame(texts)
    layers.append(alt.Chart(tdf).mark_text(align="left", baseline="middle", fontSize=11.5, font=FONT, color="#111")
                  .encode(x=alt.X("x:Q", scale=xs, axis=None), y=alt.Y("y:Q", scale=ys, axis=None), text="label:N"))

    def seg(c, r, color, width, dash=None):
        tx = LEG_TEXT_X[c]
        df = pd.DataFrame({"x": [tx - 36], "x2": [tx - 12], "y": [LEG_ROW_Y[r]]})
        kw = dict(color=color, strokeWidth=width)
        if dash:
            kw["strokeDash"] = dash
        return alt.Chart(df).mark_rule(**kw).encode(
            x=alt.X("x:Q", scale=xs, axis=None), x2="x2:Q", y=alt.Y("y:Q", scale=ys, axis=None))

    def mark(c, r, **kw):
        df = pd.DataFrame({"x": [LEG_TEXT_X[c] - 24], "y": [LEG_ROW_Y[r]]})
        return alt.Chart(df).mark_point(**kw).encode(
            x=alt.X("x:Q", scale=xs, axis=None), y=alt.Y("y:Q", scale=ys, axis=None))

    layers += [
        seg(0, 0, BLUE, 1.2), mark(0, 0, shape="triangle-up", filled=True, size=45, color=BLUE, opacity=1),
        seg(1, 0, BLUE, 2.2), mark(1, 0, shape=XPATH, filled=False, size=40, color=BLUE, strokeWidth=1.6),
        seg(2, 0, CYAN, 1.2), mark(2, 0, shape="triangle-up", filled=True, size=45, color=CYAN, opacity=1),
        seg(3, 0, CYAN, 2.2), mark(3, 0, shape=XPATH, filled=False, size=40, color=CYAN, strokeWidth=1.6),
        seg(4, 0, RED, 2.2),
        seg(5, 0, MAG, 1.8, [1.6, 1.6]),
        seg(0, 1, AFAIL_C, 2, [5, 2.5]),
        seg(1, 1, PFAIL_C, 2, [5, 2, 1.5, 2]),
        mark(2, 1, shape="circle", filled=False, size=30, color=GREEN, strokeWidth=1.6),
        mark(3, 1, shape="circle", filled=False, size=30, color="#ff2020", strokeWidth=1.6),
        mark(4, 1, shape="square", filled=False, size=55, color="#ff2020", strokeWidth=2),
        mark(5, 1, shape="M-1.2,-0.8H1.2V0.8H-1.2Z", filled=False, size=150, color=GREEN, strokeWidth=1.5,
             strokeDash=[2, 1.5]),
    ]
    return alt.layer(*layers).properties(width=LW, height=LH, view=alt.ViewBackground(strokeOpacity=0))


row1 = alt.hconcat(group("A", 7, True), group("B", 14, False), spacing=GS)
row2 = alt.hconcat(group("C", 7, True), group("D", 14, False), spacing=GS)
body = alt.vconcat(row1, row2, spacing=RS)
chart = alt.vconcat(body, legend_chart(), spacing=LS).properties(
    padding={"left": 5, "top": 4, "right": 2, "bottom": 1}
).configure(font=FONT).configure_axis(
    labelFont=FONT, titleFont=FONT, labelFontSize=9.5, titleFontSize=16, titleFontStyle="italic",
    titleFontWeight="normal", labelColor="#222", titleColor="#111", tickColor="#555", tickSize=3,
    domain=False, gridColor="#d3d3d3", gridWidth=0.8, labelPadding=1.5, titlePadding=2,
).configure_view(stroke="#8c8c8c", strokeWidth=1.6).configure_title(font=FONT)

chart.save("out.html", embed_options={"renderer": "svg", "actions": False})
